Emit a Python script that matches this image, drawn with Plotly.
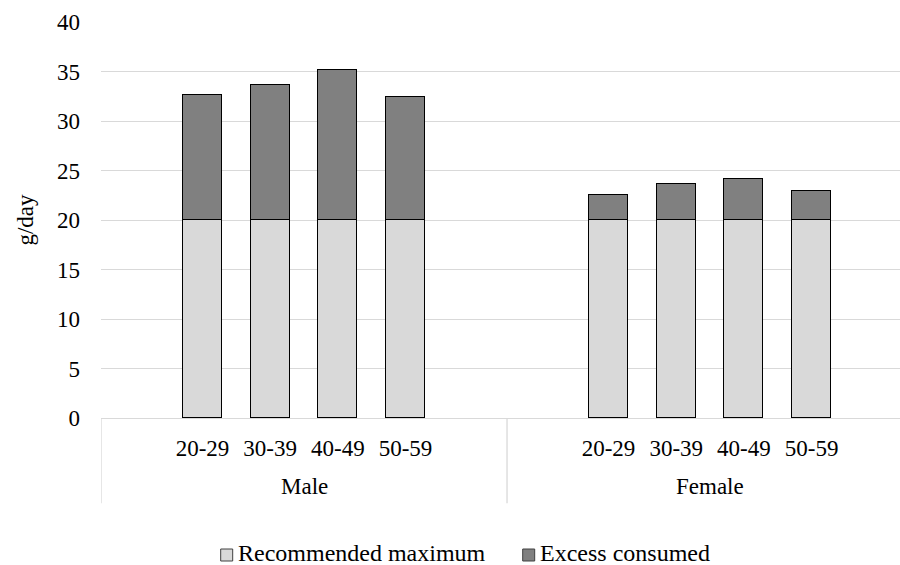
import plotly.graph_objects as go

groups = ["Male", "Female"]
ages = ["20-29", "30-39", "40-49", "50-59"]
series_names = ["Recommended maximum", "Excess consumed"]
series_colors = ["#d9d9d9", "#808080"]
recommended = [20, 20, 20, 20, 20, 20, 20, 20]
totals = [32.6, 33.6, 35.2, 32.4, 22.5, 23.6, 24.1, 22.9]
excess = [round(t - r, 2) for t, r in zip(totals, recommended)]
yticks = [0, 5, 10, 15, 20, 25, 30, 35, 40]

SLOTS = 6  # each group has an empty slot on each side
xpos = [g * SLOTS + 1 + i for g in range(len(groups)) for i in range(len(ages))]
ticktext = [a for _ in groups for a in ages]

FONT = "Times New Roman, Liberation Serif, DejaVu Serif, serif"
fs = 23
W, H = 900, 565
ML, MR, MT, MB = 101, 0, 22, 147
PW, PH = W - ML - MR, H - MT - MB


def px_x(p):  # page pixel -> paper x
    return (p - ML) / PW


def px_y(p):  # page pixel -> paper y
    return (H - MB - p) / PH


fig = go.Figure()
for name, vals, col in zip(series_names, [recommended, excess], series_colors):
    fig.add_trace(go.Bar(x=xpos, y=vals, name=name,
                         marker=dict(color=col, line=dict(color="#000000", width=1.2)),
                         width=0.576, showlegend=False))

shapes = []
for g in range(len(groups) + 1):
    shapes.append(dict(type="line", xref="x", yref="paper",
                       x0=g * SLOTS - 0.5, x1=g * SLOTS - 0.5, y0=0, y1=-0.215,
                       line=dict(color="#d9d9d9", width=1.3)))
annotations = []
for g, name in enumerate(groups):
    annotations.append(dict(x=g * SLOTS + 2.5, y=-0.172, xref="x", yref="paper",
                            text=name, showarrow=False, yanchor="middle",
                            font=dict(family=FONT, size=fs, color="#000000")))

# legend drawn manually (square marker close to its text, as in the reference)
legend_starts = [220.7, 522.7]
for start, name, col in zip(legend_starts, series_names, series_colors):
    shapes.append(dict(type="rect", xref="paper", yref="paper",
                       x0=px_x(start), x1=px_x(start + 12), y0=px_y(561), y1=px_y(549),
                       fillcolor=col, line=dict(color="#404040", width=1)))
    annotations.append(dict(x=px_x(start + 15.5), y=px_y(553), xref="paper", yref="paper",
                            xanchor="left", yanchor="middle", showarrow=False, text=name,
                            font=dict(family=FONT, size=24, color="#000000")))

fig.update_layout(
    width=W, height=H,
    margin=dict(l=ML, r=MR, t=MT, b=MB),
    plot_bgcolor="white", paper_bgcolor="white",
    barmode="stack", bargap=0,
    font=dict(family=FONT, size=fs, color="#000000"),
    shapes=shapes, annotations=annotations,
    showlegend=False,
    xaxis=dict(range=[-0.5, 11.307], tickmode="array", tickvals=xpos, ticktext=ticktext,
               showgrid=False, zeroline=False, showline=True, linecolor="#d9d9d9", linewidth=1.3,
               ticks="", ticklabelstandoff=9, tickfont=dict(family=FONT, size=fs, color="#000000")),
    yaxis=dict(range=[0, 40], tickmode="array", tickvals=yticks,
               showgrid=True, gridcolor="#d9d9d9", gridwidth=1.3, zeroline=False,
               showline=False, ticks="", ticklabelstandoff=20,
               title=dict(text="g/day", standoff=16, font=dict(family=FONT, size=fs, color="#000000")),
               tickfont=dict(family=FONT, size=fs, color="#000000")),
)
fig.write_html("out.html", config={"displayModeBar": False},
               post_script="document.body.style.margin='0';document.body.style.overflow='hidden';")
